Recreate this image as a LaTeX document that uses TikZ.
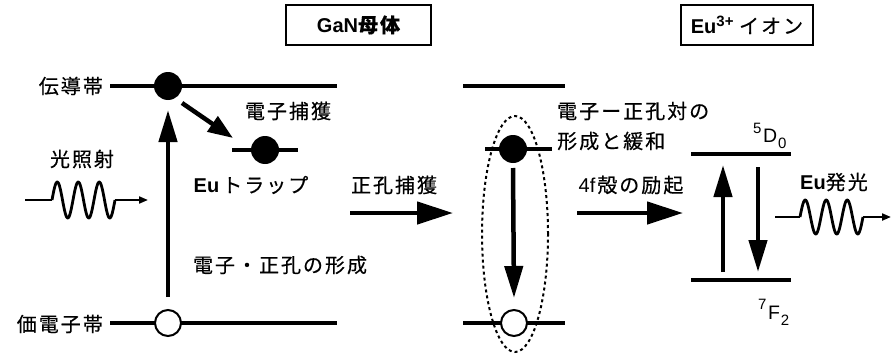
\documentclass[tikz,border=0pt]{standalone}
\usepackage{fontspec}
\setmainfont{Liberation Sans}
\newfontfamily\jp[LetterSpace=10,FakeBold=0.4]{Noto Sans CJK JP}
\usetikzlibrary{arrows.meta,calc,shapes.geometric}
\tikzset{
  band/.style={line width=4.5pt},
  elec/.style={circle, fill=black, minimum size=28pt, inner sep=0pt},
  hole/.style={circle, draw=black, fill=white, line width=2pt, minimum size=26pt, inner sep=0pt},
  bigarrow/.style={line width=4.5pt, -{Triangle[length=32pt,width=18pt]}},
  harrow/.style={line width=4.5pt, -{Triangle[length=36pt,width=22pt]}},
  midarrow/.style={line width=4.5pt, -{Triangle[length=25pt,width=18pt]}},
  wave/.style={line width=2.8pt, line join=round},
  lead/.style={line width=2pt},
  leadarrow/.style={line width=2pt, -{Triangle[length=9pt,width=7pt]}},
  lbl/.style={inner sep=0pt, font=\fontsize{20}{24}\selectfont},
  sub/.style={inner sep=0pt, font=\fontsize{19.5}{22}\selectfont},
  titlebox/.style={draw, line width=1.6pt, minimum height=40pt, inner sep=0pt, font=\fontsize{20}{24}\selectfont}
}
\newcommand{\smallidx}[2]{\raisebox{#1}{\fontsize{15}{15}\selectfont #2}}
\begin{document}
\begin{tikzpicture}[x=1pt,y=-1pt]
\useasboundingbox (0,0) rectangle (891,356);

% title boxes
\node[titlebox, minimum width=145pt] (gan) at (358.5,25) {\bfseries GaN\jp 母体};
\node[titlebox, minimum width=132pt] (euion) at (747,25) {\bfseries Eu\smallidx{7pt}{3+}\mdseries\ {\jp イオン}};

% ---- left: GaN host ----
\coordinate (cbL) at (110,86);
\coordinate (cbR) at (337,86);
\coordinate (vbL) at (110,323);
\coordinate (vbR) at (337,323);
\draw[band] (cbL) -- (cbR);
\draw[band] (vbL) -- (vbR);
\node[lbl, anchor=east] (cbl) at (103,86) {\jp 伝導帯};
\node[lbl, anchor=east] (vbl) at (103,324) {\jp 価電子帯};

\node[elec] (e1) at (168,86) {};
\node[hole] (h1) at (168,323) {};

\coordinate (trL) at (232,150);
\coordinate (trR) at (298,150);
\draw[band] (trL) -- (trR);
\node[elec] (e2) at (265,150) {};

\draw[bigarrow] ($(h1)+(0,-26)$) -- ($(e1)+(0,24)$);
\draw[midarrow] ($(e1)+(14,17)$) -- ($(e2)+(-32,-12)$);

\node[lbl] (cap) at (288,111) {\jp 電子捕獲};
\node[lbl] (light) at (82,159) {\jp 光照射};
\node[lbl] (trap) at (251,185) {\bfseries Eu\hspace{3pt}\mdseries\jp トラップ};
\node[lbl] (form) at (280,265) {\jp 電子・正孔の形成};

% incoming light wave
\coordinate (lw0) at (25,200);
\coordinate (lw1) at (52,200);
\coordinate (lw2) at (115,200);
\coordinate (lw3) at (148,200);
\draw[lead] (lw0) -- (lw1);
\draw[wave, shift={(lw1)}] plot[domain=0:63, samples=120, smooth] (\x,{-18*sin(\x/21*360)});
\draw[leadarrow] (lw2) -- (lw3);

% hole capture arrow
\node[lbl] (hcap) at (394,185) {\jp 正孔捕獲};
\coordinate (ha0) at (350,213);
\coordinate (ha1) at (453,213);
\draw[harrow] (ha0) -- (ha1);

% ---- middle ----
\coordinate (mcL) at (463,86);
\coordinate (mcR) at (565,86);
\coordinate (mtL) at (485,149);
\coordinate (mtR) at (552,149);
\coordinate (mvL) at (463,323);
\coordinate (mvR) at (565,323);
\draw[band] (mcL) -- (mcR);
\draw[band] (mtL) -- (mtR);
\draw[band] (mvL) -- (mvR);
\node[elec] (e3) at (513,149) {};
\node[hole] (h3) at (514,323) {};
\draw[bigarrow] ($(e3)+(0,19)$) -- ($(h3)+(0,-25)$);
\node[draw, ellipse, dash pattern=on 3pt off 3pt, line width=2pt, minimum width=66pt, minimum height=236pt, inner sep=0pt] (pair) at (515,234) {};

\node[lbl, anchor=west] (pr1) at (557,111) {\jp 電子ー正孔対の};
\node[lbl, anchor=west] (pr2) at (557,141) {\jp 形成と緩和};

\node[lbl] (f4) at (631,185) {4f\hspace{2pt}{\jp 殻の励起}};
\coordinate (fa0) at (577,213);
\coordinate (fa1) at (683,213);
\draw[harrow] (fa0) -- (fa1);

% ---- right: Eu ion ----
\coordinate (d0L) at (691,154);
\coordinate (d0R) at (791,154);
\coordinate (f2L) at (691,280);
\coordinate (f2R) at (791,280);
\draw[band] (d0L) -- (d0R);
\draw[band] (f2L) -- (f2R);
\node[sub, anchor=base west] (d0) at (753,142) {\smallidx{9pt}{5}\hspace{1.5pt}D\hspace{1pt}\smallidx{-6pt}{0}};
\node[sub, anchor=base west] (f2) at (758,319) {\smallidx{10pt}{7}\hspace{1.5pt}F\hspace{1pt}\smallidx{-6pt}{2}};

\coordinate (up0) at (723,272);
\coordinate (up1) at (723,165);
\coordinate (dn0) at (758,167);
\coordinate (dn1) at (758,272);
\draw[bigarrow] (up0) -- (up1);
\draw[bigarrow] (dn0) -- (dn1);

\node[lbl] (emit) at (834,182) {\bfseries Eu\mdseries\jp 発光};
\coordinate (rw0) at (775,217);
\coordinate (rw1) at (800,217);
\coordinate (rw2) at (863,217);
\coordinate (rw3) at (891,217);
\draw[lead] (rw0) -- (rw1);
\draw[wave, shift={(rw1)}] plot[domain=0:63, samples=120, smooth] (\x,{-17*sin(\x/21*360)});
\draw[leadarrow] (rw2) -- (rw3);
\end{tikzpicture}
\end{document}
